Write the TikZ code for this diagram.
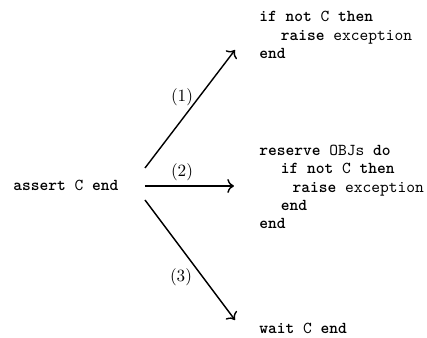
\documentclass[tikz,border=0pt]{standalone}
\usetikzlibrary{arrows.meta}
\newcommand\kw[1]{\textbf{#1}}
\begin{document}
\begin{tikzpicture}[x=0.6pt,y=-0.6pt,
  code/.style={font=\ttfamily\fontsize{10}{11}\selectfont, inner sep=0pt, anchor=west, align=left},
  lbl/.style={font=\fontsize{10.3}{12}\selectfont, inner sep=0pt},
  arr/.style={-{To[scale=1.15]}, line width=0.85pt}]
\useasboundingbox (0,0) rectangle (427,338);
\node[code] (src) at (13,185) {\kw{assert} C \kw{end}};
\node[code] (t1) at (259,35) {\kw{if not} C \kw{then}\\\hspace*{13pt}\kw{raise} exception\\\kw{end}};
\node[code] (t2) at (259,187) {\kw{reserve} OBJs \kw{do}\\\hspace*{13pt}\kw{if not} C \kw{then}\\\hspace*{20pt}\kw{raise} exception\\\hspace*{13pt}\kw{end}\\\kw{end}};
\node[code] (t3) at (259,328) {\kw{wait} C \kw{end}};
\coordinate (s1) at (145,168);
\coordinate (s2) at (145,186);
\coordinate (s3) at (145,200);
\coordinate (e1) at (235,50);
\coordinate (e2) at (234,186);
\coordinate (e3) at (235,320);
\draw[arr] (s1) -- (e1);
\draw[arr] (s2) -- (e2);
\draw[arr] (s3) -- (e3);
\node[lbl] (l1) at (182,97) {(1)};
\node[lbl] (l2) at (182,172) {(2)};
\node[lbl] (l3) at (181,277) {(3)};
\end{tikzpicture}
\end{document}
